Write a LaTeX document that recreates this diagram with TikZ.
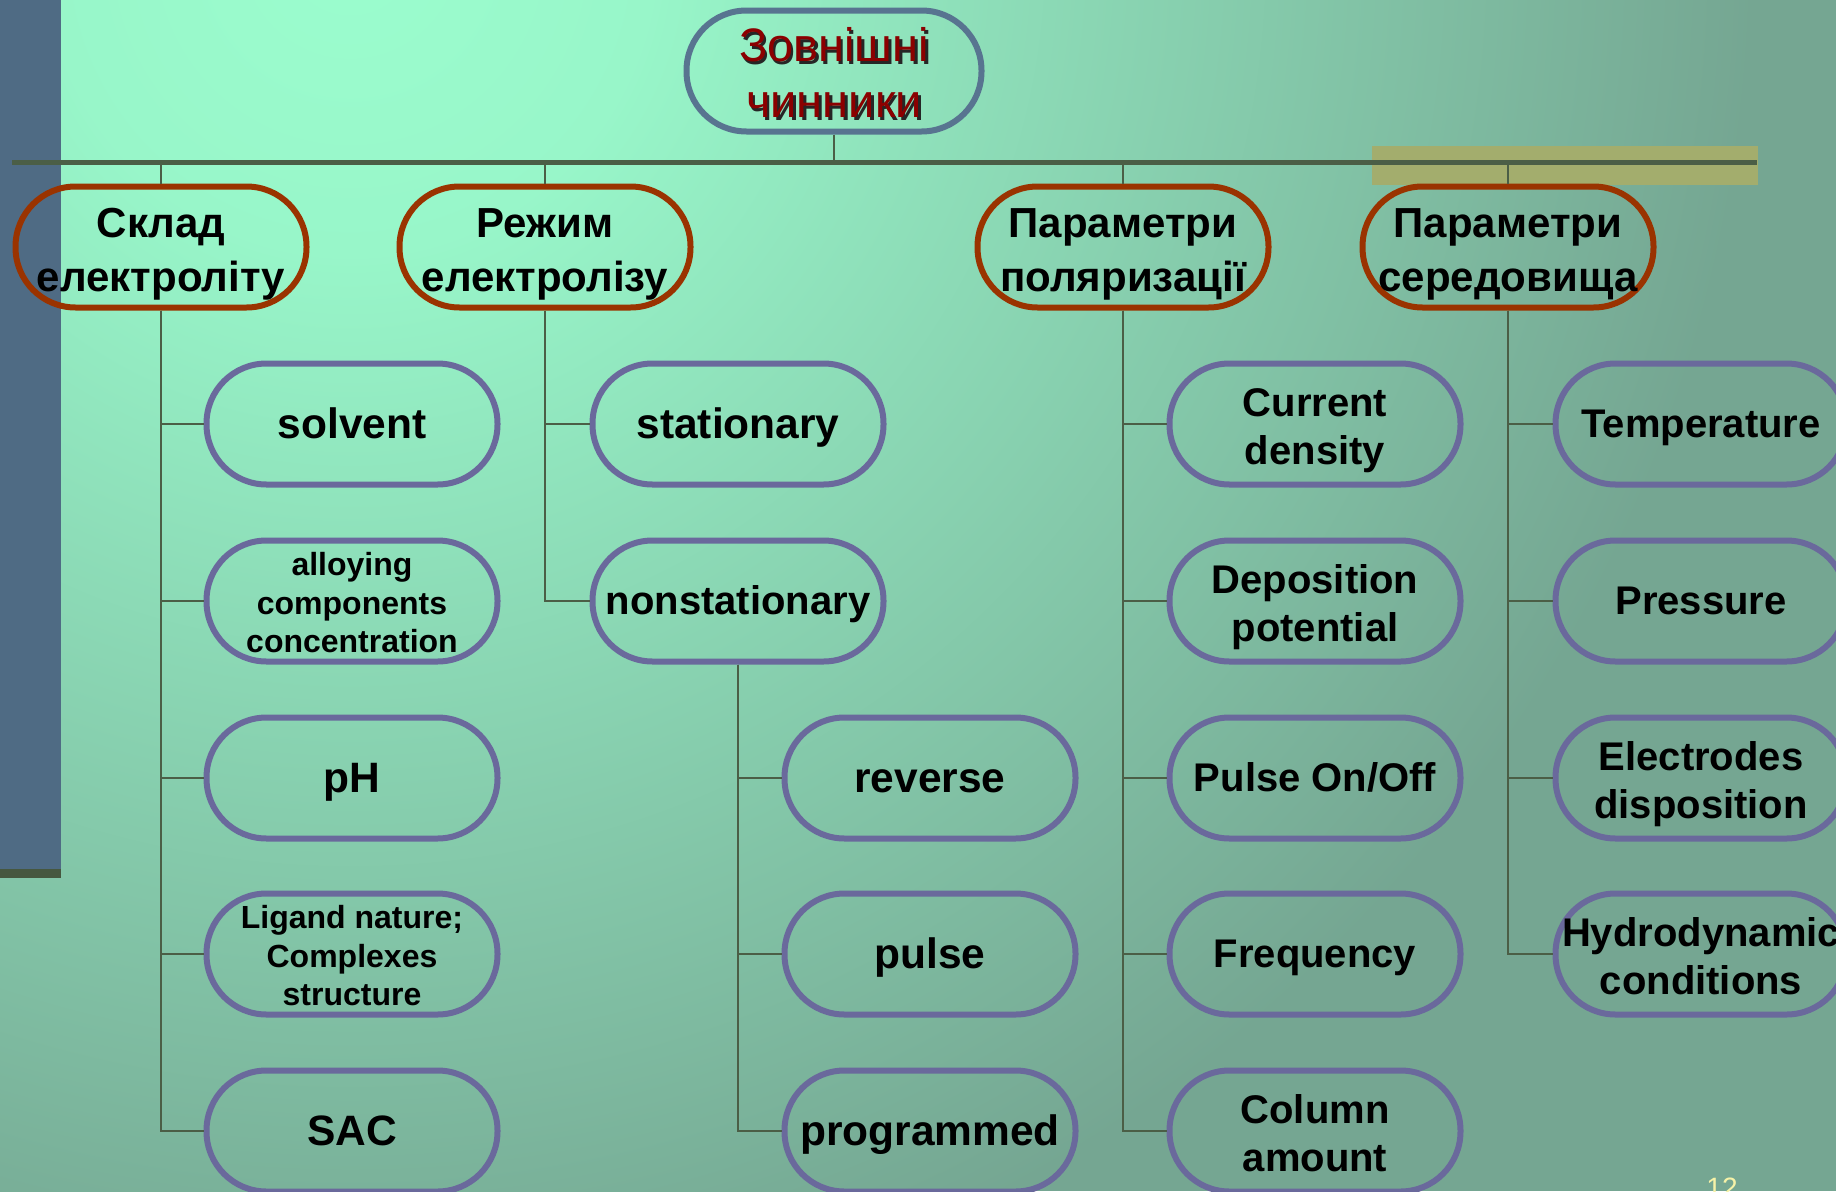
\documentclass[tikz,border=0pt]{standalone}
\usepackage{fontspec}
\setmainfont{Liberation Sans}
\definecolor{bgA}{HTML}{9BFDCE}
\definecolor{bgB}{HTML}{75A692}
\definecolor{side}{HTML}{4F6B84}
\definecolor{sidedark}{HTML}{46573F}
\definecolor{barY}{HTML}{A3AD6D}
\definecolor{lineC}{HTML}{4B5E46}
\definecolor{rootB}{HTML}{587490}
\definecolor{catB}{HTML}{9A3300}
\definecolor{leafB}{HTML}{6A699C}
\definecolor{rootT}{HTML}{8B0000}
\definecolor{pageN}{HTML}{F6F2A8}
\pgfdeclareradialshading{bgshade}{\pgfpoint{0bp}{0bp}}{color(0bp)=(bgA); color(300bp)=(bgA!92!bgB); color(1400bp)=(bgB)}
\newcommand{\ppttop}{\rule{0pt}{0.905em}}
\newcommand{\pptbot}{\rule[-0.212em]{0pt}{0.212em}}
\newcommand{\mlines}[2]{\raisebox{-#1}[\height][\depth]{\begin{tabular}{@{}c@{}}#2\end{tabular}}}
\begin{document}
\begin{tikzpicture}[x=1pt,y=-1pt,
  conn/.style={draw=lineC, line width=2pt},
  bus/.style={draw=lineC, line width=5pt},
  basebox/.style={line width=6pt, rounded corners=60pt, minimum width=291pt, minimum height=121pt, inner sep=0pt, align=center,
    execute at begin node={\ppttop}, execute at end node={\pptbot}},
  rootbox/.style={basebox, draw=rootB, minimum width=295pt, text=rootT, font=\fontsize{47}{56}\selectfont},
  rootshadow/.style={basebox, minimum width=295pt, text=black!85, font=\fontsize{47}{56}\selectfont},
  catbox/.style={basebox, draw=catB, font=\fontsize{42}{54}\selectfont\bfseries},
  leafbox/.style={basebox, draw=leafB, font=\fontsize{40}{48}\selectfont\bfseries},
  bigleaf/.style={leafbox, font=\fontsize{42.5}{48}\selectfont\bfseries},
  smallleaf/.style={leafbox, font=\fontsize{32}{38.5}\selectfont\bfseries}
]
\useasboundingbox (0,0) rectangle (1836,1191);
\clip (0,0) rectangle (1836,1191);
% background
\fill[bgB] (0,0) rectangle (1836,1191);
\node[inner sep=0pt, outer sep=0pt] (bgshading) at (350,-50) {\pgfuseshading{bgshade}};
% side bar
\fill[side] (0,0) rectangle (61,869);
\fill[sidedark] (0,869) rectangle (61,878);
% yellow band
\fill[barY] (1372,146) rectangle (1758,185);

% root
\node[rootshadow] (rootsh) at (836.5,73.5) {\mlines{7.4pt}{Зовнішні\\чинники}};
\node[rootbox] (root) at (834,71) {\mlines{7.4pt}{Зовнішні\\чинники}};

% categories
\node[catbox] (c1) at (161,247) {\mlines{7pt}{Склад\\електроліту}};
\node[catbox] (c2) at (545,247) {\mlines{7pt}{Режим\\електролізу}};
\node[catbox] (c3) at (1123,247) {\mlines{7pt}{Параметри\\поляризації}};
\node[catbox] (c4) at (1508,247) {\mlines{7pt}{Параметри\\середовища}};

% column 1
\node[bigleaf] (a1) at (352,424) {solvent};
\node[smallleaf] (a2) at (352,601) {\mlines{5.3pt}{alloying\\components\\concentration}};
\node[bigleaf] (a3) at (352,778) {pH};
\node[smallleaf] (a4) at (352,954) {\mlines{5.3pt}{Ligand nature;\\Complexes\\structure}};
\node[bigleaf] (a5) at (352,1131) {SAC};
% column 2
\node[bigleaf] (b1) at (738,424) {stationary};
\node[leafbox] (b2) at (738,601) {nonstationary};
\node[bigleaf] (b3) at (930,778) {reverse};
\node[bigleaf] (b4) at (930,954) {pulse};
\node[bigleaf] (b5) at (930,1131) {programmed};
% column 3
\node[leafbox] (d1) at (1315,424) {\mlines{6.5pt}{Current\\density}};
\node[leafbox] (d2) at (1315,601) {\mlines{6.5pt}{Deposition\\potential}};
\node[leafbox] (d3) at (1315,778) {Pulse On/Off};
\node[leafbox] (d4) at (1315,954) {Frequency};
\node[leafbox] (d5) at (1315,1131) {\mlines{6.5pt}{Column\\amount}};
% column 4
\node[leafbox] (e1) at (1701,424) {Temperature};
\node[leafbox] (e2) at (1701,601) {Pressure};
\node[leafbox] (e3) at (1701,778) {\mlines{6.5pt}{Electrodes\\disposition}};
\node[leafbox] (e4) at (1701,954) {\mlines{6.5pt}{Hydrodynamic\\conditions}};

% bus
\coordinate (busL) at (12,162);
\coordinate (busR) at (1757,162);
\draw[bus] (busL) -- (busR);
\draw[conn] (root.south) -- (root.south |- busL);
\foreach \c in {c1,c2,c3,c4} {\draw[conn] (\c.north) -- (\c.north |- busL);}

% branches
\foreach \l in {a1,a2,a3,a4,a5} {\draw[conn] (c1.south) |- (\l.west);}
\foreach \l in {b1,b2} {\draw[conn] (c2.south) |- (\l.west);}
\foreach \l in {b3,b4,b5} {\draw[conn] (b2.south) |- (\l.west);}
\foreach \l in {d1,d2,d3,d4,d5} {\draw[conn] (c3.south) |- (\l.west);}
\foreach \l in {e1,e2,e3,e4} {\draw[conn] (c4.south) |- (\l.west);}

% page number
\node[anchor=north, inner sep=0pt, text=pageN, font=\fontsize{28}{30}\selectfont] (pnum) at (1722,1178) {12};
\end{tikzpicture}
\end{document}
